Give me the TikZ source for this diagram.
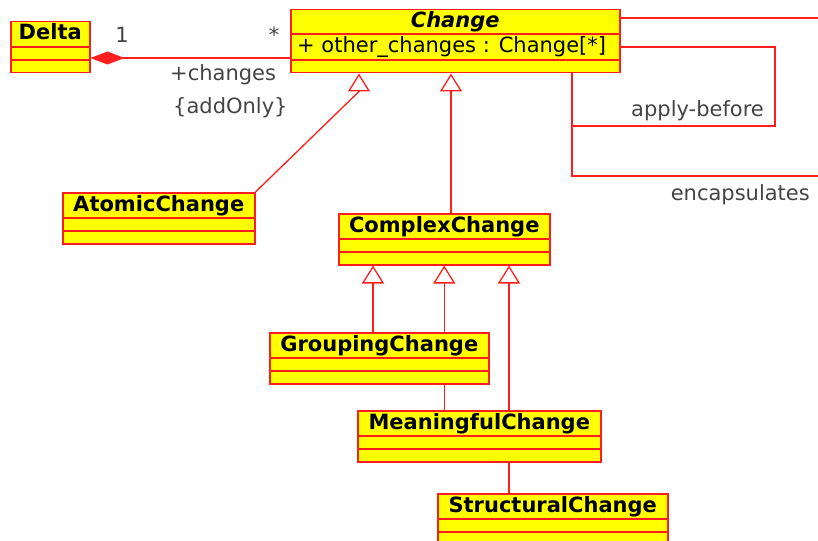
\documentclass[tikz,border=0pt]{standalone}
\usepackage{fontspec}
\setmainfont{DejaVu Sans}
\usetikzlibrary{arrows.meta,calc,positioning}
\definecolor{umlred}{RGB}{255,30,30}
\definecolor{umlyellow}{RGB}{255,255,0}
\definecolor{umltext}{RGB}{68,68,68}
\tikzset{
  umlclass/.style={
    draw = umlred,
    fill = umlyellow,
    line width = 1.5pt,
    anchor = north west,
    inner sep = 0pt,
    minimum height = 51pt
  },
  classname/.style={
    anchor = base,
    inner sep = 0pt,
    font = \fontsize{21}{25}\selectfont\bfseries
  },
  umlline/.style={
    draw = umlred,
    line width = 1.3pt
  },
  gen/.style={
    umlline,
    -{Triangle[open,length=18pt,width=22pt]}
  },
  compose/.style={
    umlline,
    {Diamond[length=34pt,width=13pt]}-
  },
  rolelabel/.style={
    text = umltext,
    inner sep = 0pt,
    font = \fontsize{21}{25}\selectfont
  }
}
\begin{document}
\begin{tikzpicture}[x=1pt,y=-1pt]
  \clip (0,0) rectangle (818,540);
  % classes
  \node[umlclass, minimum width=79pt] (delta) at (10,21) {};
  \node[umlclass, minimum width=329pt, minimum height=63pt] (change) at (290,9) {};
  \node[umlclass, minimum width=192pt] (atomic) at (62,192) {};
  \node[umlclass, minimum width=211pt] (complex) at (338,213) {};
  \node[umlclass, minimum width=219pt] (grouping) at (269,332) {};
  \node[umlclass, minimum width=243pt] (meaningful) at (357,410) {};
  \node[umlclass, minimum width=230pt] (structural) at (437,493) {};
  % compartments
  \foreach \c in {delta,atomic,complex,grouping,meaningful,structural}
    \draw[umlline] ($(\c.north west)+(0,26)$) -- ($(\c.north east)+(0,26)$)
                   ($(\c.north west)+(0,39)$) -- ($(\c.north east)+(0,39)$);
  \draw[umlline] ($(change.north west)+(0,25)$) -- ($(change.north east)+(0,25)$)
                 ($(change.north west)+(0,51)$) -- ($(change.north east)+(0,51)$);
  % names
  \node[classname] (deltaname) at ($(delta.north)+(0,19)$) {Delta};
  \node[classname] (changename) at ($(change.north)+(0,19)$) {\itshape Change};
  \node[classname] (atomicname) at ($(atomic.north)+(0,19)$) {AtomicChange};
  \node[classname] (complexname) at ($(complex.north)+(0,19)$) {ComplexChange};
  \node[classname] (groupingname) at ($(grouping.north)+(0,19)$) {GroupingChange};
  \node[classname] (meaningfulname) at ($(meaningful.north)+(0,19)$) {MeaningfulChange};
  \node[classname] (structuralname) at ($(structural.north)+(0,19)$) {StructuralChange};
  \node[rolelabel, text=black, anchor=base west] (changeattr) at ($(change.north west)+(7,44)$) {+ other\_changes : Change[*]};
  % composition
  \coordinate (deltaend) at ($(delta.north east)+(0,37)$);
  \draw[compose] (deltaend) -- (deltaend -| change.west);
  \node[rolelabel, anchor=base] (multone) at (122,43) {1};
  \node[rolelabel, anchor=base] (multmany) at (274,43) {*};
  \node[rolelabel, anchor=base west] (rolechanges) at (170,81) {+changes};
  \node[rolelabel, anchor=base west] (addonly) at (173,114) {\{addOnly\}};
  % generalizations
  \coordinate (genatomic) at ($(change.south west)+(69,18)$);
  \draw[umlline] (atomic.north east) -- (genatomic);
  \draw[gen] (genatomic) -- (genatomic |- change.south);
  \coordinate (gencomplex) at ($(change.south west)+(161,0)$);
  \draw[gen] (gencomplex |- complex.north) -- (gencomplex);
  \coordinate (gengroup) at ($(complex.south west)+(35,0)$);
  \draw[gen] (gengroup |- grouping.north) -- (gengroup);
  \draw[gen] (grouping.north -| complex.south) -- (complex.south);
  \draw[umlline] (grouping.south -| complex.south) -- (meaningful.north -| complex.south);
  \coordinate (genmeaning) at ($(complex.south west)+(171,0)$);
  \draw[gen] (genmeaning |- meaningful.north) -- (genmeaning);
  \draw[umlline] (genmeaning |- meaningful.south) -- (genmeaning |- structural.north);
  % associations to the right
  \coordinate (rimtop) at (818,18);
  \draw[umlline] (rimtop -| change.east) -- (rimtop);
  \coordinate (applycorner) at (775,126);
  \coordinate (changefoot) at ($(change.south west)+(282,0)$);
  \draw[umlline] ($(change.north east)+(0,38)$) -| (applycorner) -| (changefoot);
  \coordinate (rimlow) at (818,176);
  \draw[umlline] (changefoot) |- (rimlow);
  \node[rolelabel, anchor=base east] (applylabel) at (764,117) {apply-before};
  \node[rolelabel, anchor=base east] (encaplabel) at (810,200) {encapsulates};
\end{tikzpicture}
\end{document}
